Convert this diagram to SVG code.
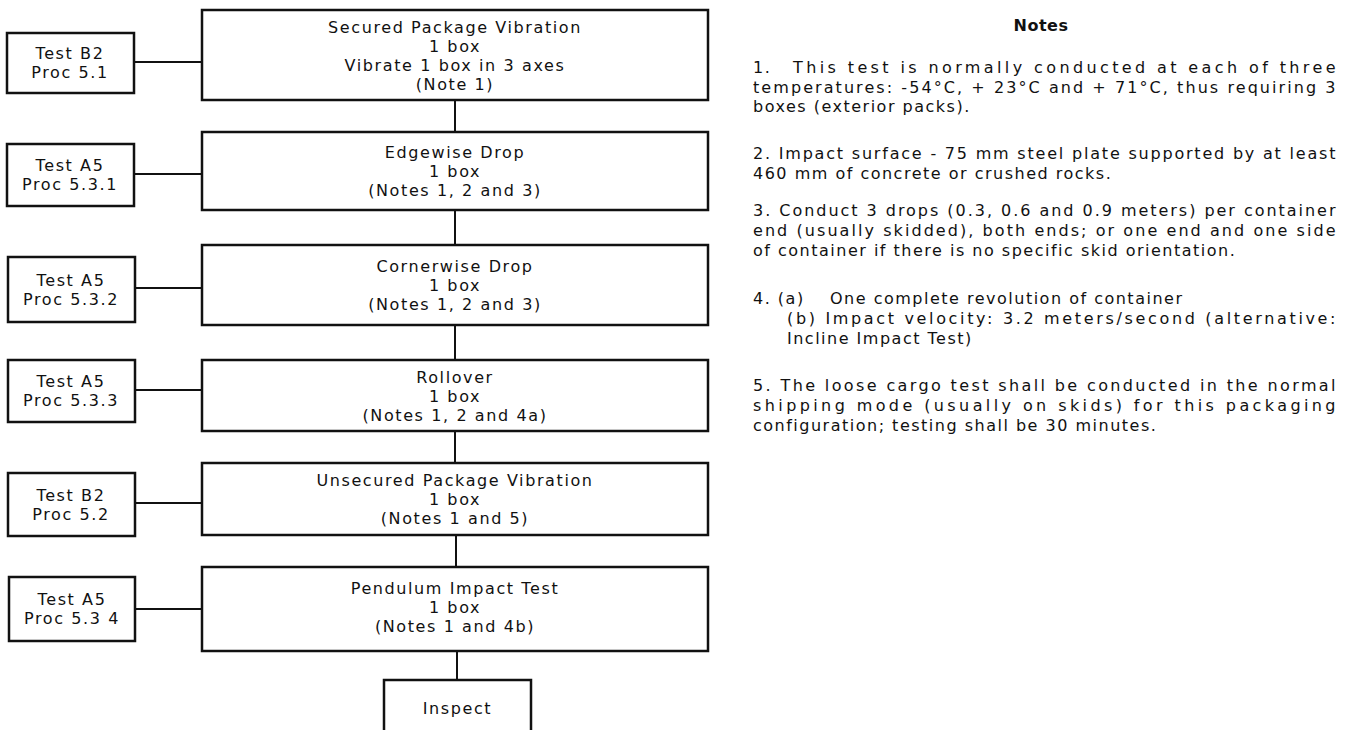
<svg xmlns="http://www.w3.org/2000/svg" width="1350" height="730" viewBox="0 0 1350 730">
<style>
.bx{fill:#fff;stroke:#111;stroke-width:2.5}
.cn{stroke:#111;stroke-width:2;fill:none}
.t{font-family:"DejaVu Sans","Liberation Sans",sans-serif;font-size:16px;fill:#111;letter-spacing:1.6px;text-anchor:middle}
.n{font-family:"DejaVu Sans","Liberation Sans",sans-serif;font-size:16px;fill:#111;letter-spacing:1.5px}
.h{font-family:"DejaVu Sans","Liberation Sans",sans-serif;font-size:16px;font-weight:bold;fill:#111;letter-spacing:0.5px;text-anchor:middle}
</style>
<rect width="1350" height="730" fill="#fff"/>
<g id="connectors">
<line class="cn" x1="134" y1="62" x2="202" y2="62"/>
<line class="cn" x1="134" y1="174" x2="202" y2="174"/>
<line class="cn" x1="134" y1="288" x2="202" y2="288"/>
<line class="cn" x1="134" y1="390" x2="202" y2="390"/>
<line class="cn" x1="134" y1="503" x2="202" y2="503"/>
<line class="cn" x1="134" y1="609" x2="202" y2="609"/>
<line class="cn" x1="455" y1="100" x2="455" y2="132"/>
<line class="cn" x1="455" y1="210" x2="455" y2="245"/>
<line class="cn" x1="455" y1="325" x2="455" y2="360"/>
<line class="cn" x1="455" y1="431" x2="455" y2="463"/>
<line class="cn" x1="456" y1="535" x2="456" y2="567"/>
<line class="cn" x1="457" y1="651" x2="457" y2="680"/>
</g>
<g id="proc1"><rect class="bx" x="7" y="33" width="127" height="60"/><text class="t"><tspan x="70" y="58.5">Test B2</tspan><tspan x="70" y="77.5">Proc 5.1</tspan></text></g>
<g id="proc2"><rect class="bx" x="7" y="144" width="127" height="62"/><text class="t"><tspan x="70" y="171">Test A5</tspan><tspan x="70" y="190">Proc 5.3.1</tspan></text></g>
<g id="proc3"><rect class="bx" x="8" y="257" width="127" height="65"/><text class="t"><tspan x="71" y="286">Test A5</tspan><tspan x="71" y="305">Proc 5.3.2</tspan></text></g>
<g id="proc4"><rect class="bx" x="8" y="360" width="127" height="62"/><text class="t"><tspan x="71" y="387">Test A5</tspan><tspan x="71" y="406">Proc 5.3.3</tspan></text></g>
<g id="proc5"><rect class="bx" x="8" y="473" width="127" height="63"/><text class="t"><tspan x="71" y="501">Test B2</tspan><tspan x="71" y="520">Proc 5.2</tspan></text></g>
<g id="proc6"><rect class="bx" x="9" y="577" width="126" height="64"/><text class="t"><tspan x="72" y="605">Test A5</tspan><tspan x="72" y="624">Proc 5.3 4</tspan></text></g>
<g id="step1"><rect class="bx" x="202" y="10" width="506" height="90"/>
<text class="t"><tspan x="455" y="32.5">Secured Package Vibration</tspan><tspan x="455" y="51.5">1 box</tspan><tspan x="455" y="70.5">Vibrate 1 box in 3 axes</tspan><tspan x="455" y="89.5">(Note 1)</tspan></text></g>
<g id="step2"><rect class="bx" x="202" y="132" width="506" height="78"/>
<text class="t"><tspan x="455" y="158">Edgewise Drop</tspan><tspan x="455" y="177">1 box</tspan><tspan x="455" y="196">(Notes 1, 2 and 3)</tspan></text></g>
<g id="step3"><rect class="bx" x="202" y="245" width="506" height="80"/>
<text class="t"><tspan x="455" y="272">Cornerwise Drop</tspan><tspan x="455" y="291">1 box</tspan><tspan x="455" y="310">(Notes 1, 2 and 3)</tspan></text></g>
<g id="step4"><rect class="bx" x="202" y="360" width="506" height="71"/>
<text class="t"><tspan x="455" y="382.5">Rollover</tspan><tspan x="455" y="401.5">1 box</tspan><tspan x="455" y="420.5">(Notes 1, 2 and 4a)</tspan></text></g>
<g id="step5"><rect class="bx" x="202" y="463" width="506" height="72"/>
<text class="t"><tspan x="455" y="486">Unsecured Package Vibration</tspan><tspan x="455" y="505">1 box</tspan><tspan x="455" y="524">(Notes 1 and 5)</tspan></text></g>
<g id="step6"><rect class="bx" x="202" y="567" width="506" height="84"/>
<text class="t"><tspan x="455" y="594">Pendulum Impact Test</tspan><tspan x="455" y="613">1 box</tspan><tspan x="455" y="632">(Notes 1 and 4b)</tspan></text></g>
<g id="inspect"><rect class="bx" x="384" y="680" width="147" height="70"/>
<text class="t" x="457.5" y="714">Inspect</text></g>
<g id="notes">
<text class="h" x="1041" y="31">Notes</text>
<text class="n"><tspan x="753" y="73">1.</tspan><tspan x="793" y="73" textLength="544" lengthAdjust="spacing">This test is normally conducted at each of three</tspan><tspan x="753" y="92.5" textLength="584" lengthAdjust="spacing">temperatures: -54°C, + 23°C and + 71°C, thus requiring 3</tspan><tspan x="753" y="112">boxes (exterior packs).</tspan></text>
<text class="n"><tspan x="753" y="159" textLength="584" lengthAdjust="spacing">2. Impact surface - 75 mm steel plate supported by at least</tspan><tspan x="753" y="178.5">460 mm of concrete or crushed rocks.</tspan></text>
<text class="n"><tspan x="753" y="216" textLength="584" lengthAdjust="spacing">3. Conduct 3 drops (0.3, 0.6 and 0.9 meters) per container</tspan><tspan x="753" y="236" textLength="584" lengthAdjust="spacing">end (usually skidded), both ends; or one end and one side</tspan><tspan x="753" y="256">of container if there is no specific skid orientation.</tspan></text>
<text class="n"><tspan x="753" y="304">4. (a)</tspan><tspan x="830" y="304">One complete revolution of container</tspan><tspan x="787" y="324" textLength="550" lengthAdjust="spacing">(b) Impact velocity: 3.2 meters/second (alternative:</tspan><tspan x="787" y="344">Incline Impact Test)</tspan></text>
<text class="n"><tspan x="753" y="391" textLength="584" lengthAdjust="spacing">5. The loose cargo test shall be conducted in the normal</tspan><tspan x="753" y="411" textLength="584" lengthAdjust="spacing">shipping mode (usually on skids) for this packaging</tspan><tspan x="753" y="431">configuration; testing shall be 30 minutes.</tspan></text>
</g>
</svg>
